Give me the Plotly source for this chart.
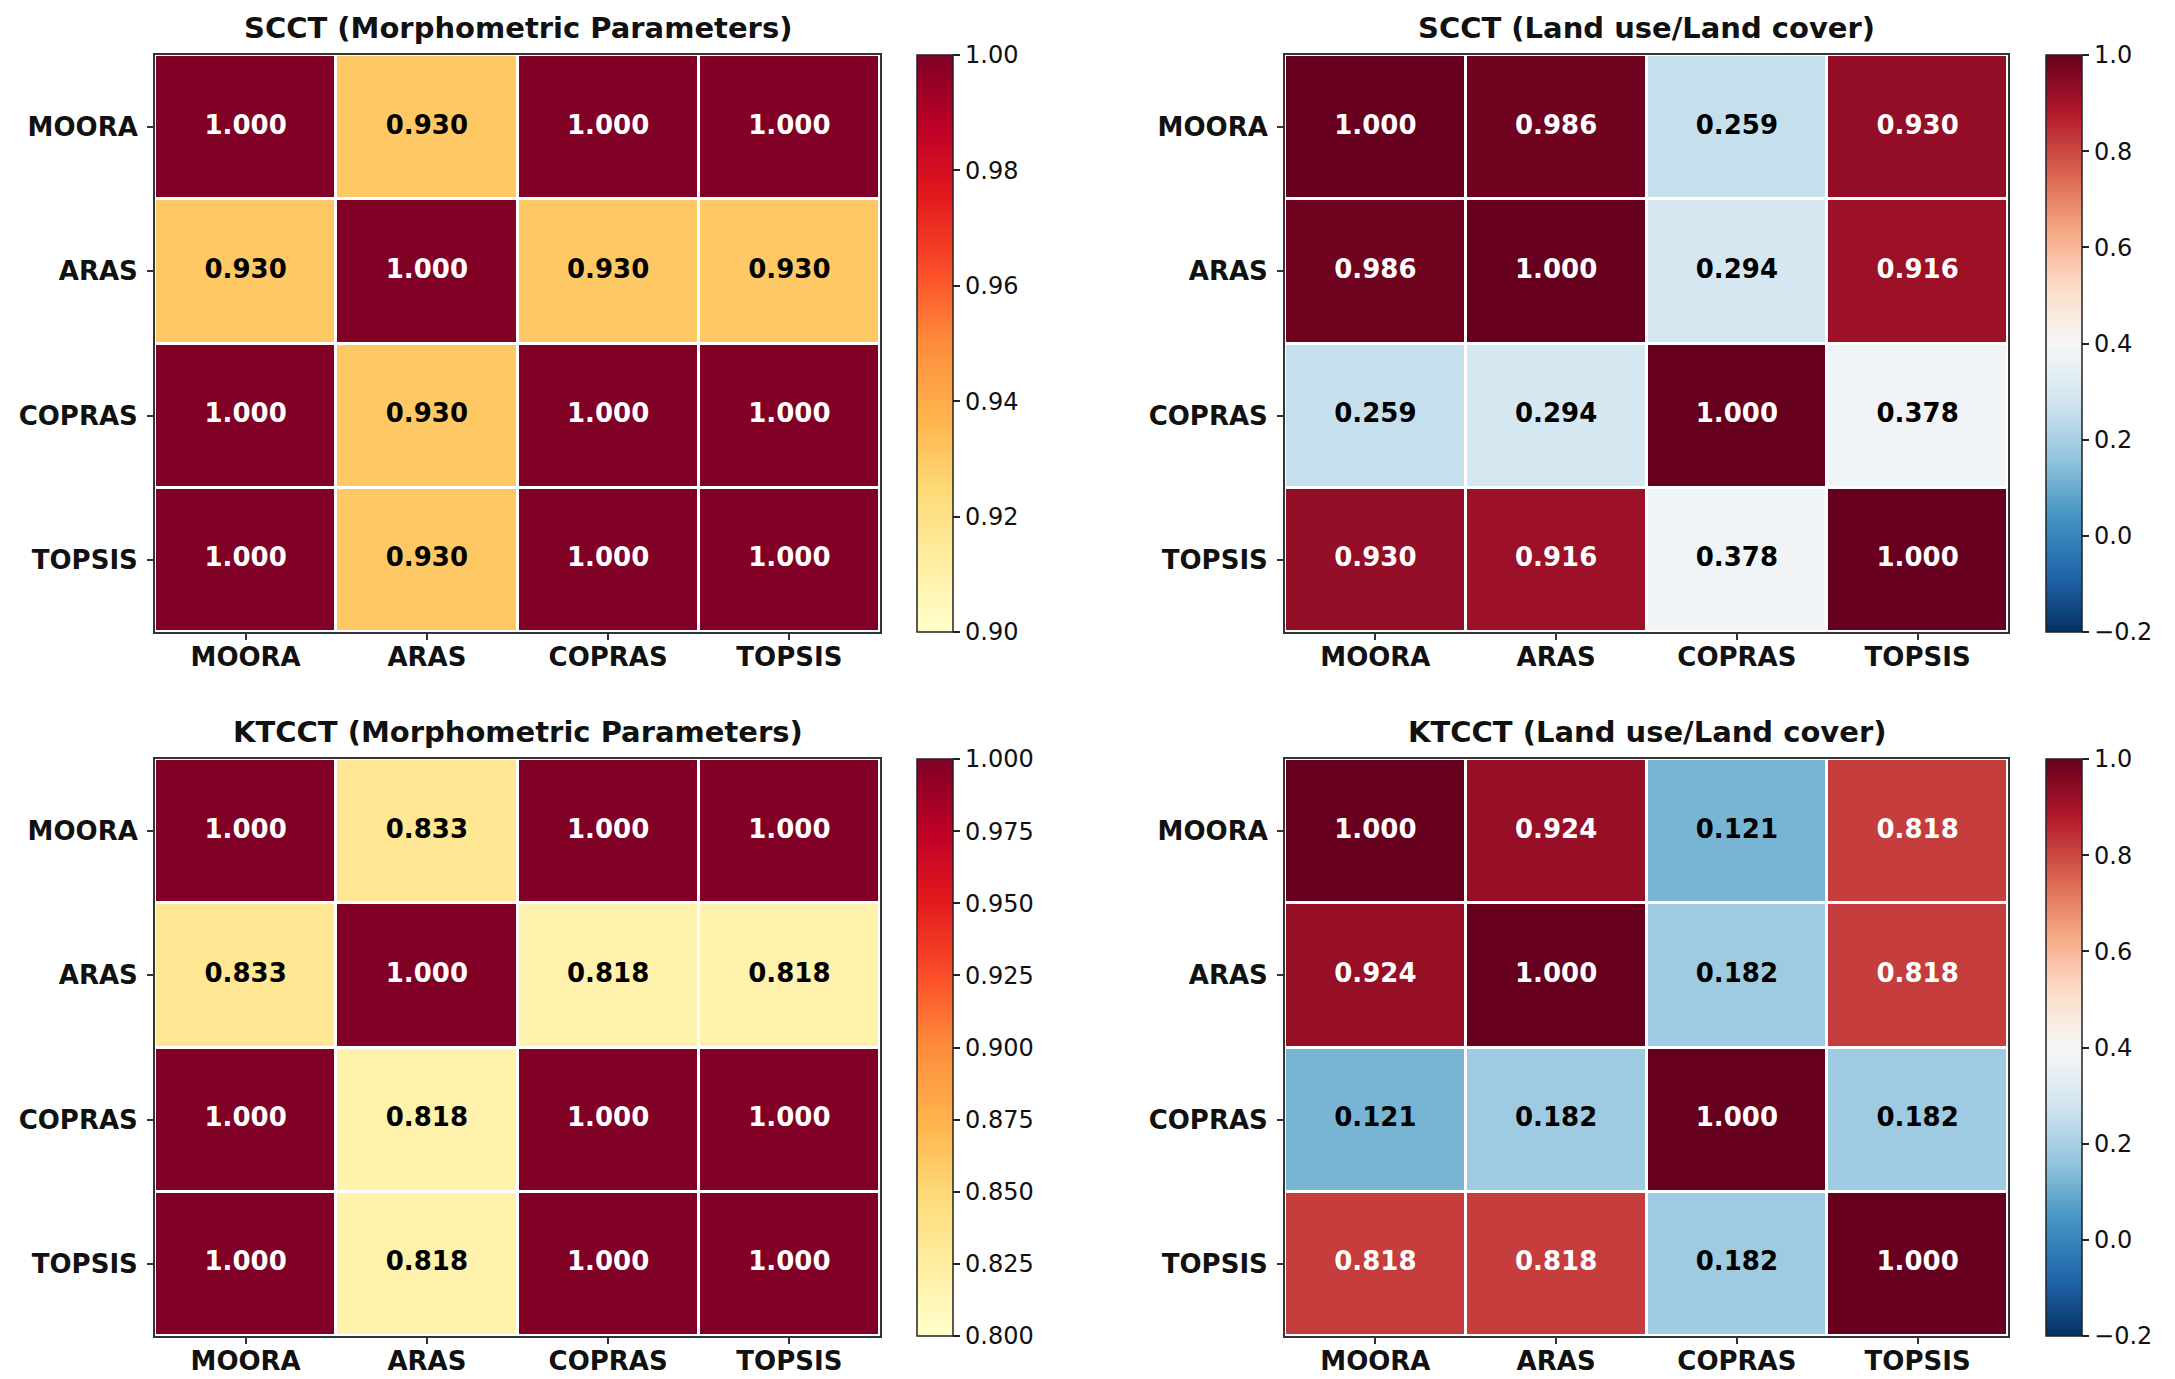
import plotly.graph_objs as go
from plotly.subplots import make_subplots

methods = ["MOORA", "ARAS", "COPRAS", "TOPSIS"]

scct_morph = [
    [1.000, 0.930, 1.000, 1.000],
    [0.930, 1.000, 0.930, 0.930],
    [1.000, 0.930, 1.000, 1.000],
    [1.000, 0.930, 1.000, 1.000],
]
scct_lulc = [
    [1.000, 0.986, 0.259, 0.930],
    [0.986, 1.000, 0.294, 0.916],
    [0.259, 0.294, 1.000, 0.378],
    [0.930, 0.916, 0.378, 1.000],
]
ktcct_morph = [
    [1.000, 0.833, 1.000, 1.000],
    [0.833, 1.000, 0.818, 0.818],
    [1.000, 0.818, 1.000, 1.000],
    [1.000, 0.818, 1.000, 1.000],
]
ktcct_lulc = [
    [1.000, 0.924, 0.121, 0.818],
    [0.924, 1.000, 0.182, 0.818],
    [0.121, 0.182, 1.000, 0.182],
    [0.818, 0.818, 0.182, 1.000],
]

titles = [
    "SCCT (Morphometric Parameters)",
    "SCCT (Land use/Land cover)",
    "KTCCT (Morphometric Parameters)",
    "KTCCT (Land use/Land cover)",
]

# matplotlib YlOrRd / RdBu_r (colorbrewer)
ylorrd = ["#ffffcc", "#ffeda0", "#fed976", "#feb24c", "#fd8d3c",
          "#fc4e2a", "#e31a1c", "#bd0026", "#800026"]
rdbu_r = ["#053061", "#2166ac", "#4393c3", "#92c5de", "#d1e5f0", "#f7f7f7",
          "#fddbc7", "#f4a582", "#d6604d", "#b2182b", "#67001f"]


def scale(cols):
    n = len(cols) - 1
    return [[i / n, c] for i, c in enumerate(cols)]


W, H = 2175, 1379
x_doms = [(155 / W, 880 / W), (1285 / W, 2008 / W)]
y_doms = [(1 - 632 / H, 1 - 55 / H), (1 - 1336 / H, 1 - 759 / H)]
cbar_x = [917 / W, 2046 / W]

panels = [
    (scct_morph, ylorrd, 0.90, 1.00, 0.02, ".2f"),
    (scct_lulc, rdbu_r, -0.2, 1.0, 0.2, ".1f"),
    (ktcct_morph, ylorrd, 0.80, 1.00, 0.025, ".3f"),
    (ktcct_lulc, rdbu_r, -0.2, 1.0, 0.2, ".1f"),
]

fig = make_subplots(rows=2, cols=2)
font = "DejaVu Sans"

for i, (z, cols, zmin, zmax, dtick, fmt) in enumerate(panels):
    r, c = i // 2, i % 2
    y0, y1 = y_doms[r]
    fig.add_trace(
        go.Heatmap(
            z=z, x=methods, y=methods,
            colorscale=scale(cols), zmin=zmin, zmax=zmax,
            xgap=3, ygap=3, hoverinfo="skip",
            colorbar=dict(
                x=cbar_x[c], xanchor="left", y=(y0 + y1) / 2, yanchor="middle",
                len=y1 - y0, lenmode="fraction", thickness=36, xpad=0, ypad=0,
                outlinecolor="#222", outlinewidth=1.5,
                tickmode="linear", tick0=zmin, dtick=dtick, tickformat=fmt,
                ticks="outside", ticklen=7, tickwidth=1.5, tickcolor="#222",
                tickfont=dict(family=font, size=24, color="#111"),
            ),
        ),
        row=r + 1, col=c + 1,
    )
    xs, ys, txt, tcol = [], [], [], []
    for a, row_name in enumerate(methods):
        for b, col_name in enumerate(methods):
            v = z[a][b]
            xs.append(col_name)
            ys.append(row_name)
            txt.append(f"{v:.3f}")
            tcol.append("white" if (v - zmin) / (zmax - zmin) > 0.5 else "black")
    fig.add_trace(
        go.Scatter(
            x=xs, y=ys, text=txt, mode="text", hoverinfo="skip", showlegend=False,
            textfont=dict(family=font, size=26, weight="bold", color=tcol),
        ),
        row=r + 1, col=c + 1,
    )
    fig.add_annotation(
        text=titles[i], xref="paper", yref="paper",
        x=sum(x_doms[c]) / 2, y=y1 + 27 / H, xanchor="center", yanchor="middle",
        showarrow=False, font=dict(family=font, size=29, weight="bold", color="#111"),
    )

axis_style = dict(
    showline=True, mirror=True, linecolor="#333", linewidth=2,
    ticks="outside", ticklen=6, tickwidth=1.5, tickcolor="#333",
    showgrid=False, zeroline=False,
    tickfont=dict(family=font, size=26, weight="bold", color="#111"),
)
for i in range(4):
    r, c = i // 2, i % 2
    fig.update_xaxes(axis_style, domain=list(x_doms[c]), ticklabelstandoff=-5,
                     row=r + 1, col=c + 1)
    fig.update_yaxes(axis_style, domain=list(y_doms[r]), autorange="reversed",
                     ticklabelstandoff=4, row=r + 1, col=c + 1)

fig.update_layout(
    width=W, height=H, margin=dict(l=0, r=0, t=0, b=0),
    paper_bgcolor="white", plot_bgcolor="white", showlegend=False,
)

fig.write_html(
    "out.html",
    config={"displayModeBar": False},
    post_script="document.body.style.margin='0';document.body.style.overflow='hidden';",
)
